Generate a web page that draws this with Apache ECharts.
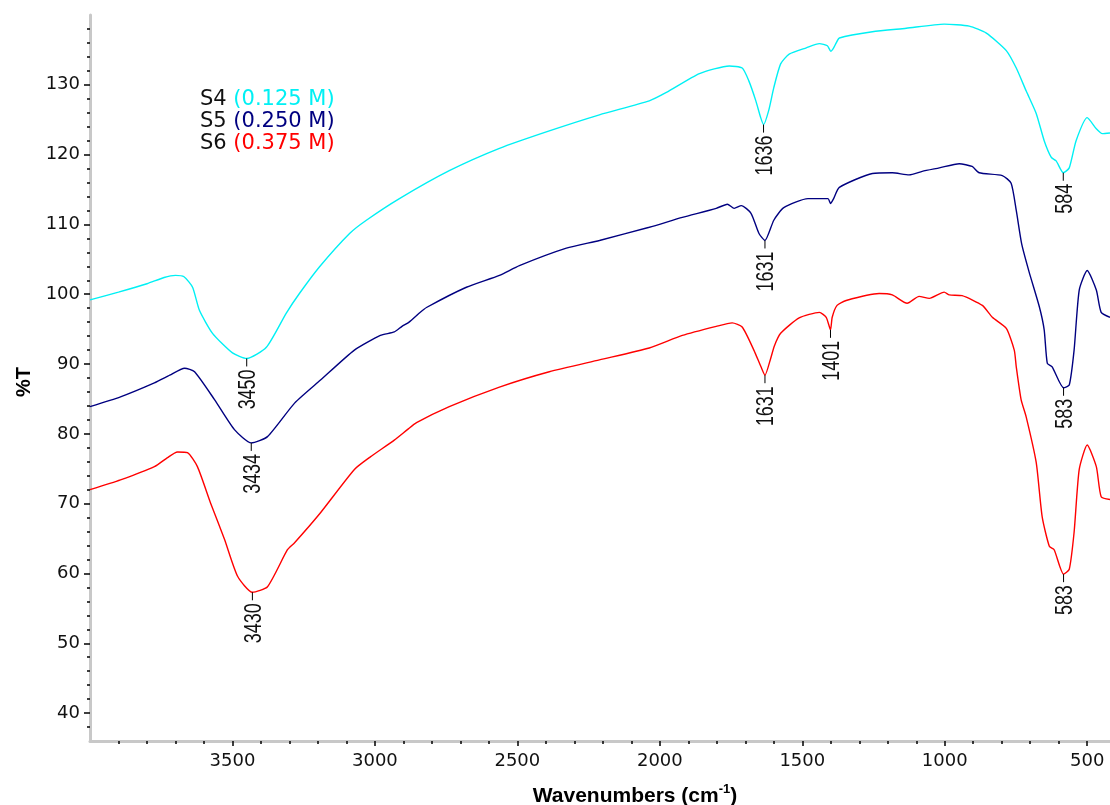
<!DOCTYPE html>
<html>
<head>
<meta charset="utf-8">
<script src="https://cdn.jsdelivr.net/npm/echarts@6/dist/echarts.min.js"></script>
<style>
  html, body { margin: 0; padding: 0; background: #fff; overflow: hidden; }
  #chart { width: 1110px; height: 805px; }
</style>
</head>
<body>
<div id="chart"></div>
<script>
// spectra: wavenumber (cm-1) and %T
const s4Wn = [4000, 3900, 3800, 3740, 3700, 3670, 3640, 3616, 3570, 3500, 3450, 3381, 3311, 3265, 3195, 3089, 3030, 2914, 2739, 2563, 2388, 2212, 2037, 1977, 1861, 1756, 1711, 1688, 1663, 1646, 1636, 1618, 1600, 1576, 1546, 1486, 1440, 1412, 1400, 1390, 1381, 1370, 1254, 1135, 1002, 914, 854, 784, 749, 714, 679, 651, 626, 609, 584, 563, 539, 500, 468, 447, 420]
const s4T = [99.2, 100.3, 101.5, 102.4, 102.7, 102.5, 101.0, 97.7, 94.4, 91.6, 90.8, 92.4, 97.3, 100.1, 103.9, 108.7, 110.6, 113.7, 117.7, 120.9, 123.4, 125.7, 127.7, 128.9, 131.6, 132.7, 132.4, 130.6, 127.7, 125.3, 124.3, 126.3, 129.6, 133.0, 134.4, 135.3, 135.9, 135.6, 134.8, 135.3, 136.0, 136.7, 137.6, 138.1, 138.7, 138.4, 137.4, 134.9, 132.4, 129.1, 125.9, 122.0, 119.6, 119.1, 117.4, 118.1, 122.0, 125.3, 123.7, 123.0, 123.1]

const s5Wn = [4000, 3893, 3774, 3720, 3668, 3633, 3563, 3493, 3434, 3377, 3282, 3191, 3072, 2981, 2932, 2905, 2880, 2844, 2819, 2679, 2563, 2493, 2328, 2212, 2037, 1921, 1802, 1763, 1739, 1714, 1680, 1652, 1631, 1600, 1565, 1480, 1410, 1401, 1390, 1370, 1254, 1184, 1125, 1079, 1019, 949, 904, 879, 798, 767, 749, 730, 704, 668, 651, 640, 623, 583, 563, 546, 528, 500, 468, 451, 420]
const s5T = [83.9, 85.3, 87.3, 88.4, 89.4, 88.9, 84.9, 80.6, 78.7, 79.6, 84.4, 87.7, 92.0, 94.1, 94.6, 95.4, 96.0, 97.3, 98.1, 101.0, 102.7, 104.1, 106.6, 107.7, 109.6, 111.0, 112.3, 112.9, 112.3, 112.7, 111.6, 108.7, 107.7, 110.6, 112.4, 113.7, 113.7, 113.0, 113.7, 115.3, 117.3, 117.4, 117.1, 117.6, 118.1, 118.7, 118.3, 117.4, 117.0, 115.9, 112.0, 107.2, 103.2, 98.2, 94.9, 90.1, 89.6, 86.6, 87.0, 92.0, 100.6, 103.4, 100.6, 97.4, 96.7]

const s6Wn = [4000, 3893, 3774, 3728, 3693, 3658, 3623, 3577, 3528, 3482, 3430, 3377, 3307, 3282, 3191, 3072, 3016, 2932, 2886, 2854, 2739, 2563, 2388, 2212, 2037, 1921, 1802, 1746, 1711, 1670, 1645, 1631, 1611, 1598, 1576, 1511, 1440, 1416, 1401, 1395, 1378, 1346, 1230, 1184, 1132, 1090, 1054, 1002, 984, 939, 868, 833, 784, 756, 749, 732, 714, 679, 658, 633, 616, 583, 563, 546, 528, 500, 468, 451, 420]
const s6T = [72.0, 73.4, 75.3, 76.6, 77.4, 77.3, 75.3, 70.1, 64.9, 59.6, 57.3, 58.1, 63.4, 64.4, 68.7, 74.9, 76.7, 79.1, 80.6, 81.6, 83.9, 86.7, 88.9, 90.6, 92.3, 94.1, 95.4, 95.9, 95.3, 92.0, 89.6, 88.4, 90.8, 92.6, 94.4, 96.6, 97.4, 96.7, 94.9, 96.7, 98.4, 99.1, 100.1, 99.9, 98.7, 99.7, 99.4, 100.3, 99.9, 99.8, 98.4, 96.7, 95.1, 92.0, 89.6, 84.9, 82.4, 75.9, 68.1, 63.9, 63.4, 59.9, 60.6, 65.9, 74.9, 78.4, 75.3, 71.0, 70.6]

const seriesNames = ['S4', 'S5', 'S6']
const concLabels = ['(0.125 M)', '(0.250 M)', '(0.375 M)']
const colors = ['#00f0f4', '#000080', '#ff0000']

// marked band positions
const peakWn = [3450, 1636, 584, 3434, 1631, 583, 3430, 1631, 1401, 583]
const peakT = [90.8, 124.3, 117.4, 78.7, 107.7, 86.6, 57.3, 88.4, 94.9, 59.9]

const xMajorTicks = [500, 1000, 1500, 2000, 2500, 3000, 3500]
const xMinorTicks = []
for (let v = 500; v < 4000; v += 100) if (v % 500 !== 0) xMinorTicks.push(v)
const yMajorTicks = [40, 50, 60, 70, 80, 90, 100, 110, 120, 130]
const yMinorTicks = []
for (let v = 38; v <= 138; v += 2) if (v % 10 !== 0) yMinorTicks.push(v)

const pairs = (wn, t) => wn.map((w, i) => [w, t[i]])
const spectra = [pairs(s4Wn, s4T), pairs(s5Wn, s5T), pairs(s6Wn, s6T)]

const axisFont = 'DejaVu Sans'
const X_MIN = 420, X_MAX = 4000, Y_MIN = 36, Y_MAX = 140

const chart = echarts.init(document.getElementById('chart'), null, { renderer: 'canvas' })

const xBase = {
  type: 'value', min: X_MIN, max: X_MAX, inverse: true, position: 'bottom',
  splitLine: { show: false },
}
const yBase = {
  type: 'value', min: Y_MIN, max: Y_MAX, position: 'left',
  splitLine: { show: false },
}

chart.setOption({
  animation: false,
  backgroundColor: '#fff',
  grid: { left: 90, right: 0, top: 15, bottom: 64, outerBoundsMode: 'none', containLabel: false },
  legend: {
    data: seriesNames,
    orient: 'vertical',
    left: 195,
    top: 89,
    padding: 0,
    itemGap: 0,
    itemWidth: 0,
    itemHeight: 14,
    icon: 'none',
    selectedMode: false,
    formatter: name => {
      const i = seriesNames.indexOf(name)
      return `{k|${name}} {c${i}|${concLabels[i]}}`
    },
    textStyle: {
      fontFamily: axisFont,
      fontSize: 21,
      lineHeight: 22,
      color: '#111',
      rich: {
        k: { fontFamily: axisFont, fontSize: 21, color: '#111' },
        c0: { fontFamily: axisFont, fontSize: 21, color: colors[0] },
        c1: { fontFamily: axisFont, fontSize: 21, color: colors[1] },
        c2: { fontFamily: axisFont, fontSize: 21, color: colors[2] },
      },
    },
  },
  xAxis: [
    {
      ...xBase,
      axisLine: { show: true, lineStyle: { color: '#c8c8c8', width: 3 } },
      axisTick: { show: true, customValues: xMajorTicks, length: 5, lineStyle: { color: '#000', width: 1.5 } },
      axisLabel: { customValues: xMajorTicks, margin: 11, color: '#111', fontFamily: axisFont, fontSize: 18, formatter: v => String(v) },
      name: '{a|Wavenumbers (cm}{s|-1}{a|)}',
      nameLocation: 'middle',
      nameGap: 42,
      nameTextStyle: {
        padding: [0, 0, 0, 70],
        rich: {
          a: { fontFamily: 'Liberation Sans', fontWeight: 'bold', fontSize: 21, color: '#000', lineHeight: 24, verticalAlign: 'bottom' },
          s: { fontFamily: 'Liberation Sans', fontWeight: 'bold', fontSize: 13, color: '#000', lineHeight: 24, verticalAlign: 'top' },
        },
      },
    },
    {
      ...xBase,
      axisLine: { show: false },
      axisTick: { show: true, customValues: xMinorTicks, length: 3, lineStyle: { color: '#000', width: 1.5 } },
      axisLabel: { show: false },
    },
  ],
  yAxis: [
    {
      ...yBase,
      axisLine: { show: true, lineStyle: { color: '#c8c8c8', width: 3 } },
      axisTick: { show: true, customValues: yMajorTicks, length: 6, lineStyle: { color: '#000', width: 1.5 } },
      axisLabel: { customValues: yMajorTicks, margin: 10, color: '#111', fontFamily: axisFont, fontSize: 18 },
      name: '%T',
      nameLocation: 'middle',
      nameGap: 56,
      nameTextStyle: { fontFamily: 'Liberation Sans', fontWeight: 'bold', fontSize: 20, color: '#000', padding: [0, 8, 0, 0] },
    },
    {
      ...yBase,
      axisLine: { show: false },
      axisTick: { show: true, customValues: yMinorTicks, length: 3, lineStyle: { color: '#000', width: 1.5 } },
      axisLabel: { show: false },
    },
  ],
  series: [
    ...spectra.map((data, i) => ({
      name: seriesNames[i],
      type: 'line',
      data,
      showSymbol: false,
      smooth: 0.2,
      color: colors[i],
      lineStyle: { color: colors[i], width: 1.4 },
      silent: true,
      z: 3,
    })),
    {
      type: 'custom',
      data: peakWn.map((w, i) => [w, peakT[i]]),
      silent: true,
      z: 4,
      renderItem: (params, api) => {
        const p = api.coord([api.value(0), api.value(1)])
        return {
          type: 'group',
          children: [
            {
              type: 'line',
              shape: { x1: p[0], y1: p[1], x2: p[0], y2: p[1] + 8 },
              style: { stroke: '#000', lineWidth: 1 },
            },
            {
              type: 'text',
              x: p[0] + 2,
              y: p[1] + 11,
              rotation: Math.PI / 2,
              scaleX: 0.78,
              style: {
                text: String(api.value(0)),
                align: 'right',
                verticalAlign: 'middle',
                font: '23px "Liberation Sans", Arial, sans-serif',
                fill: '#111',
              },
            },
          ],
        }
      },
    },
  ],
})
</script>
</body>
</html>
